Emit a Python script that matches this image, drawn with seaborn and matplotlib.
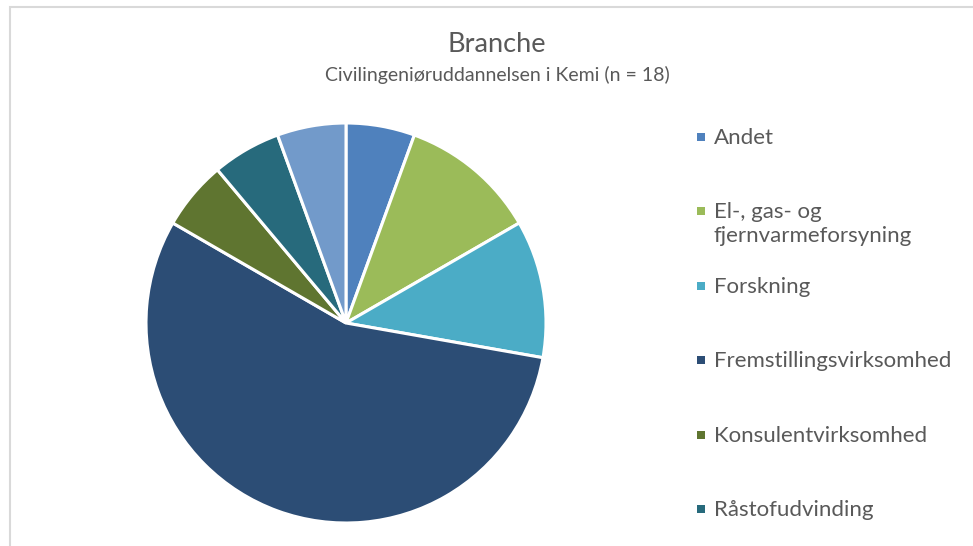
import matplotlib
matplotlib.use("Agg")
import matplotlib.pyplot as plt
import matplotlib.patches as mpatches
import seaborn as sns

# data
categories = ["Andet", "El-, gas- og\nfjernvarmeforsyning", "Forskning",
              "Fremstillingsvirksomhed", "Konsulentvirksomhed", "Råstofudvinding",
              "Øvrige"]
counts = [1, 2, 2, 10, 1, 1, 1]
colors = ["#4F81BD", "#9BBB59", "#4BACC6", "#2C4D75", "#5F7530", "#276A7C", "#729ACA"]

sns.set_theme(style="white")
plt.rcParams['font.family'] = ['Lato', 'DejaVu Sans']
txt = "#595959"

W, H = 973, 546
fig = plt.figure(figsize=(W / 100, H / 100), dpi=100)

# outer chart frame (cut off at right/bottom)
fig.add_artist(mpatches.Rectangle((9.5 / W, -0.1), 1.2, 1.1 - 6.5 / H,
                                  transform=fig.transFigure, fill=False,
                                  edgecolor="#d9d9d9", lw=1.5))

# pie
cx, cy, r = 346, 323, 200
ax = fig.add_axes([(cx - r) / W, (H - cy - r) / H, 2 * r / W, 2 * r / H])
ax.pie(counts, colors=colors, startangle=90, counterclock=False,
       wedgeprops=dict(edgecolor="white", linewidth=2.2))
ax.set_xlim(-1, 1)
ax.set_ylim(-1, 1)
ax.set_aspect("equal")
ax.axis("off")

fig.text(497 / W, 1 - 45 / H, "Branche", ha="center", va="center",
         fontsize=19.5, color=txt)
fig.text(497 / W, 1 - 75 / H, "Civilingeniøruddannelsen i Kemi (n = 18)",
         ha="center", va="center", fontsize=14, color=txt)

# legend, equal slots, multi-line labels top aligned (7th entry falls off the chart)
top, step = 137, 74.4
sq = 8
for i, (lab, col) in enumerate(zip(categories[:6], colors[:6])):
    y = top + i * step
    fig.add_artist(mpatches.Rectangle((697 / W, 1 - (y + sq / 2) / H), sq / W, sq / H,
                                      transform=fig.transFigure, color=col, lw=0))
    fig.text(714 / W, 1 - (y - 9) / H, lab, ha="left", va="top",
             fontsize=16, color=txt, linespacing=1.2)

fig.savefig("out.png", dpi=100)
